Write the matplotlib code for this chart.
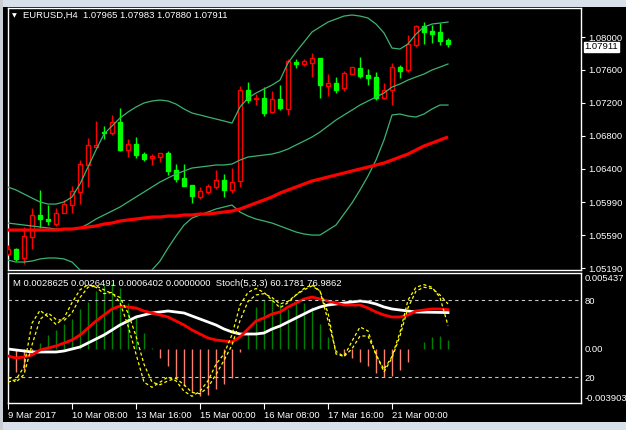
import matplotlib
matplotlib.use("Agg")
import matplotlib.pyplot as plt
import matplotlib.transforms as mtransforms
from matplotlib.patches import Rectangle
import numpy as np

# ---------------- data (EURUSD, H4) ----------------
opens = [1.05361, 1.05422, 1.05313, 1.05568, 1.05836, 1.05787, 1.05726, 1.05860, 1.05957, 1.06115,
         1.06444, 1.06662, 1.06845, 1.06833, 1.06966, 1.06626, 1.06699, 1.06577, 1.06529, 1.06541,
         1.06590, 1.06383, 1.06286, 1.06200, 1.06055, 1.06115, 1.06176, 1.06261, 1.06140, 1.06249,
         1.07356, 1.07246, 1.07258, 1.07088, 1.07246, 1.07125, 1.07696, 1.07672, 1.07684, 1.07745,
         1.07404, 1.07441, 1.07380, 1.07550, 1.07623, 1.07538, 1.07514, 1.07258, 1.07356, 1.07635,
         1.07599, 1.07903, 1.08140, 1.08073, 1.08061, 1.07965]
highs = [1.05471, 1.05430, 1.05690, 1.05921, 1.06140, 1.05957, 1.05921, 1.06018, 1.06188, 1.06504,
         1.06772, 1.06979, 1.06918, 1.07052, 1.07137, 1.06760, 1.06784, 1.06602, 1.06577, 1.06595,
         1.06614, 1.06456, 1.06456, 1.06205, 1.06176, 1.06213, 1.06383, 1.06334, 1.06407, 1.07404,
         1.07453, 1.07307, 1.07392, 1.07343, 1.07416, 1.07733, 1.07733, 1.07733, 1.07806, 1.07750,
         1.07550, 1.07514, 1.07587, 1.07640, 1.07757, 1.07611, 1.07575, 1.07441, 1.07684, 1.07660,
         1.08024, 1.08146, 1.08182, 1.08146, 1.08170, 1.07983]
lows = [1.05349, 1.05276, 1.05240, 1.05422, 1.05678, 1.05714, 1.05702, 1.05855, 1.05860, 1.05969,
        1.06176, 1.06655, 1.06760, 1.06808, 1.06620, 1.06541, 1.06529, 1.06492, 1.06444, 1.06480,
        1.06322, 1.06237, 1.06185, 1.05982, 1.06030, 1.06091, 1.06152, 1.06055, 1.06103, 1.06176,
        1.07198, 1.07173, 1.07039, 1.07076, 1.07112, 1.07052, 1.07623, 1.07647, 1.07514, 1.07258,
        1.07283, 1.07319, 1.07343, 1.07545, 1.07502, 1.07416, 1.07234, 1.07250, 1.07173, 1.07502,
        1.07575, 1.07878, 1.07915, 1.07927, 1.07903, 1.07880]
closes = [1.05422, 1.05301, 1.05580, 1.05836, 1.05787, 1.05763, 1.05860, 1.05969, 1.06127, 1.06456,
          1.06687, 1.06687, 1.06833, 1.06966, 1.06626, 1.06699, 1.06565, 1.06517, 1.06553, 1.06590,
          1.06371, 1.06273, 1.06188, 1.06067, 1.06127, 1.06188, 1.06261, 1.06140, 1.06237, 1.07356,
          1.07234, 1.07258, 1.07076, 1.07246, 1.07137, 1.07708, 1.07672, 1.07708, 1.07745, 1.07416,
          1.07441, 1.07356, 1.07562, 1.07635, 1.07526, 1.07502, 1.07258, 1.07356, 1.07635, 1.07587,
          1.07915, 1.08140, 1.08061, 1.08037, 1.07951, 1.07911]

bb_upper = [1.06176, 1.06140, 1.06091, 1.06042, 1.05994, 1.05969, 1.05969, 1.05994, 1.06055, 1.06213,
            1.06419, 1.06626, 1.06821, 1.06918, 1.07015, 1.07088, 1.07149, 1.07198, 1.07222, 1.07234,
            1.07222, 1.07185, 1.07125, 1.07076, 1.07052, 1.07027, 1.07003, 1.06979, 1.06954, 1.07149,
            1.07258, 1.07319, 1.07368, 1.07416, 1.07477, 1.07684, 1.07818, 1.07939, 1.08061, 1.08122,
            1.08182, 1.08219, 1.08255, 1.08268, 1.08255, 1.08231, 1.08158, 1.08049, 1.07866, 1.07854,
            1.07915, 1.08037, 1.08122, 1.08158, 1.08170, 1.08182]
bb_middle = [1.05738, 1.05726, 1.05714, 1.05702, 1.05690, 1.05678, 1.05665, 1.05665, 1.05665, 1.05678,
             1.05726, 1.05787, 1.05836, 1.05884, 1.05933, 1.05994, 1.06055, 1.06115, 1.06176, 1.06237,
             1.06286, 1.06334, 1.06371, 1.06407, 1.06419, 1.06431, 1.06444, 1.06444, 1.06456, 1.06504,
             1.06541, 1.06553, 1.06565, 1.06577, 1.06602, 1.06638, 1.06687, 1.06735, 1.06784, 1.06845,
             1.06918, 1.06991, 1.07052, 1.07112, 1.07173, 1.07222, 1.07270, 1.07319, 1.07392, 1.07429,
             1.07477, 1.07514, 1.07550, 1.07599, 1.07635, 1.07672]
bb_lower = [1.05288, 1.05264, 1.05264, 1.05276, 1.05301, 1.05313, 1.05313, 1.05301, 1.05264, 1.05167,
            1.05033, 1.04948, 1.04875, 1.04851, 1.04851, 1.04887, 1.04948, 1.05045, 1.05167, 1.05276,
            1.05434, 1.05580, 1.05714, 1.05799, 1.05836, 1.05872, 1.05909, 1.05933, 1.05957, 1.05872,
            1.05823, 1.05787, 1.05763, 1.05738, 1.05702, 1.05665, 1.05629, 1.05605, 1.05592, 1.05592,
            1.05653, 1.05714, 1.05848, 1.05982, 1.06140, 1.06310, 1.06504, 1.06748, 1.07052, 1.07064,
            1.07039, 1.07027, 1.07064, 1.07125, 1.07173, 1.07173]
slow_ma = [1.05653, 1.05653, 1.05653, 1.05653, 1.05653, 1.05653, 1.05653, 1.05665, 1.05665, 1.05678,
           1.05690, 1.05702, 1.05726, 1.05738, 1.05763, 1.05775, 1.05787, 1.05799, 1.05811, 1.05811,
           1.05823, 1.05823, 1.05836, 1.05836, 1.05848, 1.05848, 1.05860, 1.05872, 1.05884, 1.05909,
           1.05945, 1.05982, 1.06018, 1.06055, 1.06103, 1.06140, 1.06176, 1.06213, 1.06249, 1.06273,
           1.06298, 1.06322, 1.06346, 1.06371, 1.06395, 1.06419, 1.06444, 1.06468, 1.06504, 1.06541,
           1.06577, 1.06626, 1.06675, 1.06711, 1.06748, 1.06784]

macd_main = [-0.000509, -0.000655, -0.000582, -0.000436, -0.000073, 0.000073, 0.000218, 0.000436, 0.000655, 0.001018,
             0.001528, 0.002037, 0.002473, 0.002910, 0.003128, 0.003055, 0.002982, 0.002764, 0.002619, 0.002473,
             0.002328, 0.002037, 0.001746, 0.001382, 0.001091, 0.000800, 0.000655, 0.000582, 0.000509, 0.000873,
             0.001455, 0.002037, 0.002255, 0.002546, 0.002691, 0.003055, 0.003346, 0.003637, 0.003782, 0.003637,
             0.003492, 0.003346, 0.003201, 0.003201, 0.003201, 0.002982, 0.002691, 0.002473, 0.002328, 0.002328,
             0.002473, 0.002764, 0.002837, 0.002910, 0.002910, 0.0028625]
macd_signal = [0.000000, -0.000073, -0.000145, -0.000218, -0.000218, -0.000218, -0.000218, -0.000145, 0.000000, 0.000145,
               0.000436, 0.000727, 0.001018, 0.001382, 0.001746, 0.002037, 0.002328, 0.002473, 0.002619, 0.002691,
               0.002764, 0.002691, 0.002619, 0.002400, 0.002182, 0.001964, 0.001746, 0.001455, 0.001237, 0.001091,
               0.001091, 0.001091, 0.001164, 0.001455, 0.001673, 0.001964, 0.002255, 0.002546, 0.002837, 0.003055,
               0.003201, 0.003273, 0.003346, 0.003419, 0.003492, 0.003419, 0.003273, 0.003055, 0.002910, 0.002837,
               0.002764, 0.002691, 0.002680, 0.002670, 0.002660, 0.0026491]
macd_hist = [-0.001673, -0.001673, -0.001528, -0.000145, 0.000436, 0.001018, 0.001382, 0.001819, 0.002182, 0.002910,
             0.003419, 0.004219, 0.004728, 0.004801, 0.004437, 0.003346, 0.002473, 0.001164, 0.000073, -0.000655,
             -0.001237, -0.002109, -0.002691, -0.003128, -0.003419, -0.003346, -0.002910, -0.002546, -0.002109, -0.000218,
             0.001091, 0.003055, 0.003564, 0.003637, 0.003273, 0.002910, 0.003346, 0.003346, 0.003055, 0.001819,
             0.000873, 0.000000, -0.000436, -0.000655, -0.000946, -0.001237, -0.001746, -0.002037, -0.001964, -0.001528,
             -0.000946, 0.000000, 0.000509, 0.000873, 0.000946, 0.0006402]

stoch_k = [16, 18, 28, 62, 72, 67, 61, 66, 78, 88,
           92, 90, 85, 86, 78, 60, 38, 16, 12, 16,
           20, 17, 9, 5, 9, 17, 30, 38, 53, 76,
           86, 89, 86, 80, 74, 78, 84, 89, 92, 87,
           70, 38, 36, 48, 59, 56, 37, 26, 36, 55,
           80, 90, 92, 90, 82, 60.1781]
stoch_d = [20, 16, 22, 45, 65, 70, 65, 64, 70, 82,
           90, 91, 88, 85, 82, 70, 52, 30, 16, 14,
           17, 19, 14, 8, 7, 12, 22, 33, 45, 64,
           79, 84, 85, 82, 77, 79, 84, 88, 91, 87,
           64, 40, 36, 42, 52, 52, 38, 24, 35, 52,
           74, 87, 90, 89, 84, 76.9862]

time_tick_bars = [0, 8, 16, 24, 32, 40, 48]
time_tick_labels = ["9 Mar 2017", "10 Mar 08:00", "13 Mar 16:00", "15 Mar 00:00",
                    "16 Mar 08:00", "17 Mar 16:00", "21 Mar 00:00"]
price_ticks = [1.08000, 1.07600, 1.07200, 1.06800, 1.06400, 1.05990, 1.05590, 1.05190]
main_title = "EURUSD,H4  1.07965 1.07983 1.07880 1.07911"
sub_title = "M 0.0028625 0.0026491 0.0006402 0.0000000  Stoch(5,3,3) 60.1781 76.9862"
last_price = 1.07911
macd_max, macd_min = 0.005437, -0.003903
stoch_levels = [80, 20]

# ---------------- figure ----------------
plt.rcParams['font.family'] = ['Liberation Sans', 'DejaVu Sans']
FS = 6.8
W, H = 626, 430
fig = plt.figure(figsize=(W / 100, H / 100), dpi=100)
fig.patch.set_facecolor('black')


def box(l, t, r, b):
    return [l / W, 1 - b / H, (r - l) / W, (b - t) / H]


# window chrome strips
fig.patches.append(Rectangle((0, 1 - 7 / H), 1, 7 / H, transform=fig.transFigure,
                             facecolor='#D8E1EA', edgecolor='none', zorder=0))
fig.patches.append(Rectangle((0, 0), 1, 8 / H, transform=fig.transFigure,
                             facecolor='#D8E1EA', edgecolor='none', zorder=0))
fig.patches.append(Rectangle((0, 0), 3 / W, 1, transform=fig.transFigure,
                             facecolor='#C9CED4', edgecolor='none', zorder=0))

ax = fig.add_axes(box(8, 8, 581, 270))
ax2 = fig.add_axes(box(8, 273, 581, 403))

x = np.arange(len(opens))
o, h, l, c = (np.array(v) for v in (opens, highs, lows, closes))
bull = c >= o
wick_col = np.where(bull, '#FF0000', '#00FF00')
ax.vlines(x, l, h, colors=wick_col, lw=1.0, zorder=3)
lo = np.minimum(o, c)
ht = np.maximum(np.abs(c - o), 0.00003)
ax.bar(x[bull], ht[bull], bottom=lo[bull], width=0.6, facecolor='black',
       edgecolor='#FF0000', linewidth=1.0, zorder=4)
ax.bar(x[~bull], ht[~bull], bottom=lo[~bull], width=0.6, facecolor='#00FF00',
       edgecolor='#00FF00', linewidth=1.0, zorder=4)

bb_col = '#3CB371'
for band in (bb_upper, bb_middle, bb_lower):
    ax.plot(x, band, color=bb_col, lw=0.9, zorder=5)
ax.plot(x, slow_ma, color='#FF0000', lw=2.3, zorder=5, solid_capstyle='butt')

ax.set_facecolor('black')
ax.set_xlim(0, 71.625)
ax.set_ylim(1.05167, 1.08353)
ax.set_xticks([])
ax.yaxis.tick_right()
ax.set_yticks(price_ticks)
ax.set_yticklabels([f"{p:.5f}" for p in price_ticks])
ax.tick_params(axis='y', colors='white', labelsize=FS, length=3, width=0.8, pad=2)
for s in ax.spines.values():
    s.set_color('white')
    s.set_linewidth(1.0)

# current-price marker box (placed just under the 1.08000 label as in MT4)
bt = mtransforms.blended_transform_factory(ax.transAxes, ax.transData)
ax.text(1.006, last_price - 0.00027, f"{last_price:.5f}", transform=bt, ha='left', va='center',
        color='black', fontsize=FS, clip_on=False, zorder=10,
        bbox=dict(boxstyle='square,pad=0.05', facecolor='white', edgecolor='white'))

fig.text(12 / W, 1 - 15.5 / H, '\u25BC', fontsize=4.5, color='white', va='center',
         family='DejaVu Sans')
fig.text(23 / W, 1 - 15 / H, main_title, fontsize=FS, color='white', va='center')

# ---------------- lower window: MACD + Stochastic ----------------
ax2.set_facecolor('black')
hist = np.array(macd_hist)
ax2.vlines(x, 0, hist, colors=np.where(hist >= 0, '#008000', '#FA8072'), lw=1.0, zorder=2)
ax2.plot(x, macd_signal, color='white', lw=2.0, zorder=3)
ax2.plot(x, macd_main, color='#FF0000', lw=2.0, zorder=4)
ax2.set_xlim(0, 71.625)
ax2.set_ylim(-0.003928, 0.005528)

ax3 = ax2.twinx()
ax3.set_ylim(-0.23, 101.1)
for lev in stoch_levels:
    ax3.axhline(lev, color='#C8C8C8', lw=0.8, ls=(0, (3, 3)), zorder=1)
ax3.plot(x, stoch_d, color='#FFFF00', lw=0.9, ls=(0, (2.5, 2)), zorder=3)
ax3.plot(x, stoch_k, color='#FFFF00', lw=0.9, ls=(0, (2.5, 2)), zorder=3)
for s in ax3.spines.values():
    s.set_visible(False)

ax2.yaxis.tick_right()
ax2.set_yticks([macd_max, 0.0, macd_min])
ax2.set_yticklabels([f"{macd_max:.6f}", "0.00", f"{macd_min:.6f}"])
labs = ax2.get_yticklabels()
labs[0].set_verticalalignment('top')
labs[-1].set_verticalalignment('bottom')
ax2.tick_params(axis='y', colors='white', labelsize=FS, length=0, pad=2.5)
ax3.set_yticks(stoch_levels)
ax3.set_yticklabels([str(v) for v in stoch_levels])
ax3.tick_params(axis='y', colors='white', labelsize=FS, length=0, pad=2.5)

ax2.set_xticks(time_tick_bars)
ax2.set_xticklabels(time_tick_labels)
for lab in ax2.get_xticklabels():
    lab.set_horizontalalignment('left')
ax2.tick_params(axis='x', colors='white', labelsize=FS, length=4, width=0.8, pad=1.5)
for s in ax2.spines.values():
    s.set_color('white')
    s.set_linewidth(1.0)

fig.text(13 / W, 1 - 283 / H, sub_title, fontsize=FS, color='white', va='center')

fig.savefig('out.png', dpi=100, facecolor=fig.get_facecolor())
